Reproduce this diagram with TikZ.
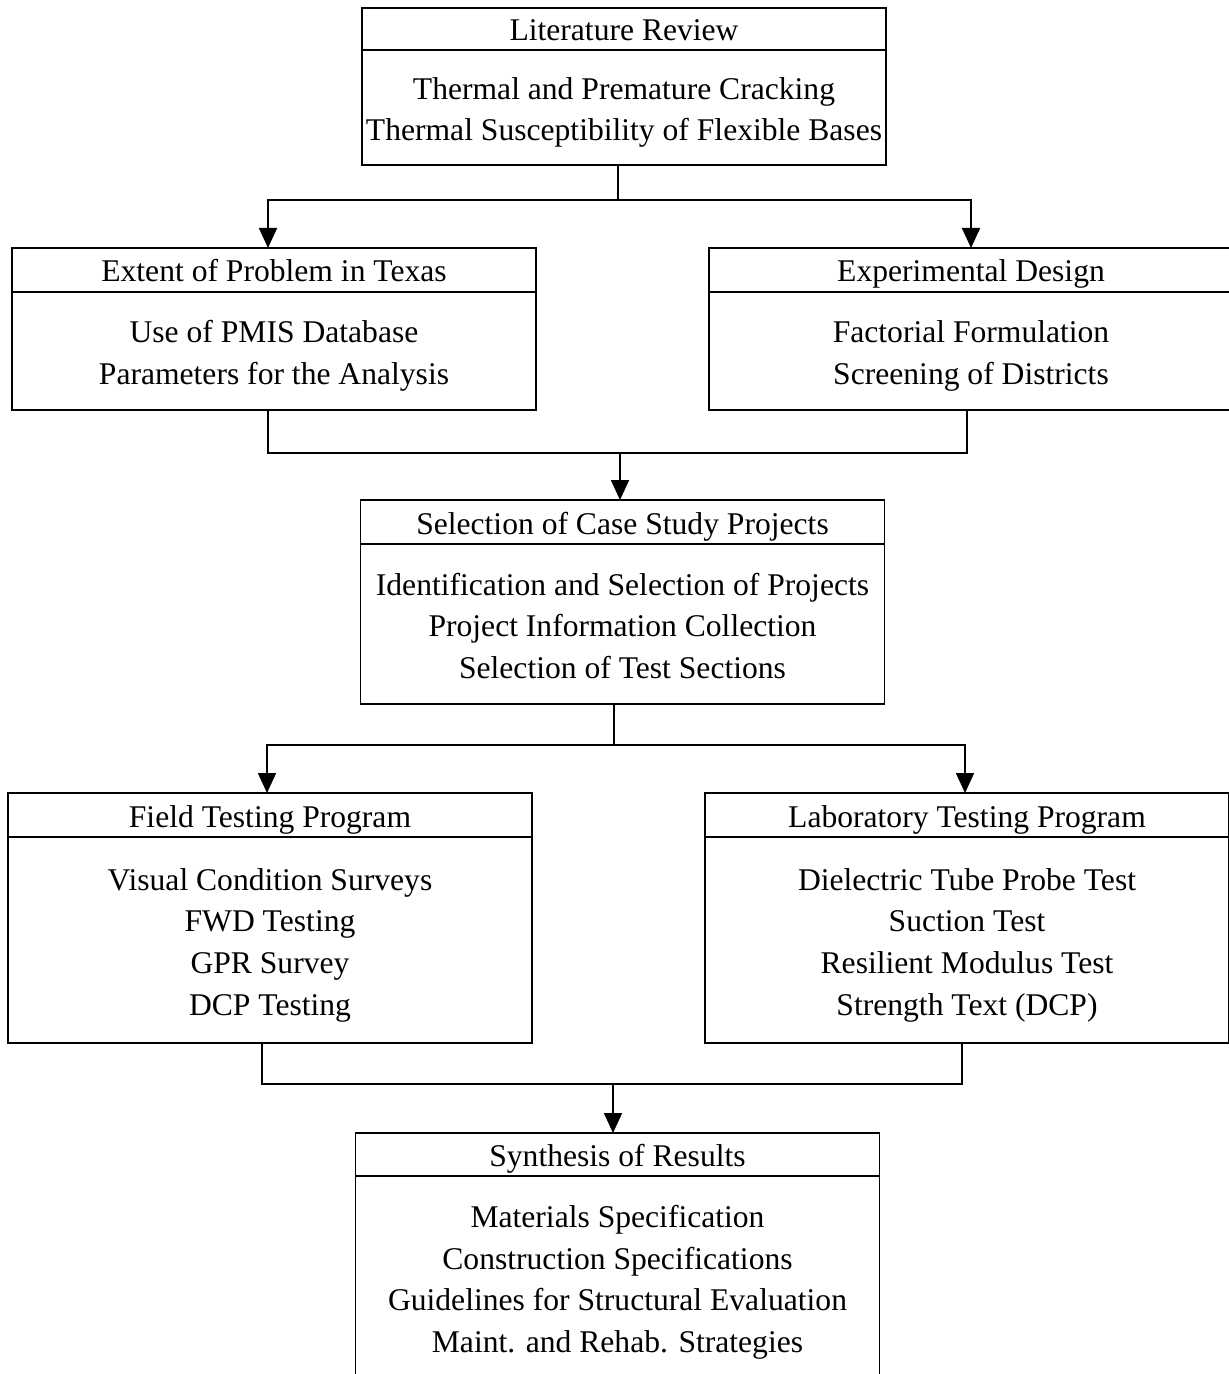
\documentclass[tikz,border=0pt]{standalone}
\usepackage{fontspec}
\setmainfont{Liberation Serif}
\usetikzlibrary{arrows.meta,positioning}
\newcommand{\boxstrut}{\rule{0pt}{16pt}}

\begin{document}
\begin{tikzpicture}[x=0.5pt,y=-0.5pt,
  box/.style={draw,line width=0.9pt,outer sep=0pt,inner sep=0pt,minimum width=262pt,align=center,font=\fontsize{15.8}{20.8}\selectfont},
  hdr/.style={box,minimum height=22pt,text height=12pt,text depth=0pt},
  body/.style={box,execute at end node={\rule[-3.4pt]{0pt}{3.4pt}}},
  line/.style={line width=0.9pt},
  arr/.style={line width=0.9pt,-{Triangle[width=9pt,length=10pt]}}]
\path[use as bounding box,clip] (0,0) rectangle (1229,1374);

%Literature Review
\node[hdr,anchor=north,minimum height=21pt] (lith) at (624,8) {Literature Review};
\node[body,minimum height=57.5pt,below=0pt of lith] (litb) {\boxstrut Thermal and Premature Cracking\\Thermal Susceptibility of Flexible Bases};

%Extent of Problem / Experimental Design
\node[hdr,anchor=north] (exth) at (274,248) {Extent of Problem in Texas};
\node[body,minimum height=59pt,below=0pt of exth] (extb) {\boxstrut Use of PMIS Database\\Parameters for the Analysis};
\node[hdr,anchor=north] (exph) at (971,248) {Experimental Design};
\node[body,minimum height=59pt,below=0pt of exph] (expb) {\boxstrut Factorial Formulation\\Screening of Districts};

%Selection of Case Study Projects
\node[hdr,anchor=north] (selh) at (622.5,500) {Selection of Case Study Projects};
\node[body,minimum height=80pt,below=0pt of selh] (selb) {\boxstrut Identification and Selection of Projects\\Project Information Collection\\Selection of Test Sections};

%Field / Laboratory Testing Program
\node[hdr,anchor=north] (fldh) at (270,793) {Field Testing Program};
\node[body,minimum height=103pt,below=0pt of fldh] (fldb) {\boxstrut Visual Condition Surveys\\FWD Testing\\GPR Survey\\DCP Testing};
\node[hdr,anchor=north] (labh) at (967,793) {Laboratory Testing Program};
\node[body,minimum height=103pt,below=0pt of labh] (labb) {\boxstrut Dielectric Tube Probe Test\\Suction Test\\Resilient Modulus Test\\Strength Text (DCP)};

%Synthesis of Results
\node[hdr,anchor=north,minimum height=21.5pt] (synh) at (617.5,1133) {Synthesis of Results};
\node[body,minimum height=101.5pt,below=0pt of synh] (synb) {\boxstrut Materials Specification\\Construction Specifications\\Guidelines for Structural Evaluation\\Maint. and Rehab. Strategies};

%connectors
\coordinate (j1) at (618,200);
\coordinate (j2) at (620,453);
\coordinate (j3) at (614,745);
\coordinate (j4) at (613,1084);
\draw[line] (litb.south -| j1) -- (j1);
\draw[arr] (j1) -| ([xshift=-3pt]exth.north);
\draw[arr] (j1) -| (exph.north);
\draw[line] ([xshift=-3pt]extb.south) |- (j2) -| ([xshift=-2pt]expb.south);
\draw[arr] (j2) -- (j2 |- selh.north);
\draw[line] (selb.south -| j3) -- (j3);
\draw[arr] (j3) -| ([xshift=-1.5pt]fldh.north);
\draw[arr] (j3) -| ([xshift=-1pt]labh.north);
\draw[line] ([xshift=-4pt]fldb.south) |- (j4) -| ([xshift=-2.5pt]labb.south);
\draw[arr] (j4) -- (j4 |- synh.north);
\end{tikzpicture}
\end{document}
